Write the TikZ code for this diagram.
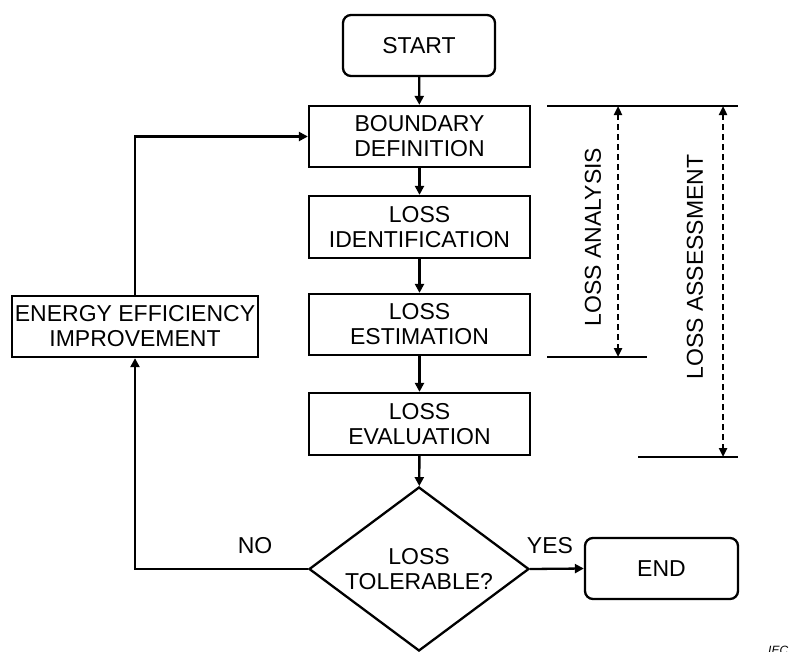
\documentclass[tikz,border=0pt]{standalone}
\usepackage{fontspec}
\setmainfont{Liberation Sans}
\usetikzlibrary{arrows.meta,shapes.geometric}
\tikzset{
  every node/.style={font=\fontsize{23}{25}\selectfont},
  ln/.style={line width=2.3pt},
  arr/.style={line width=2.3pt,-{Triangle[length=9pt,width=9pt]}},
  darr/.style={line width=2.3pt,dash pattern=on 6pt off 4pt,{Triangle[length=9pt,width=8pt]}-{Triangle[length=9pt,width=8pt]}},
  procbox/.style={draw,line width=2.3pt,rectangle,inner sep=0pt,align=center,minimum width=221pt,minimum height=61pt},
  termbox/.style={draw,line width=2.3pt,rectangle,rounded corners=8pt,inner sep=0pt,align=center,minimum width=152pt,minimum height=61pt},
  decbox/.style={draw,line width=2.3pt,diamond,aspect=1.34,inner sep=0pt,align=center,minimum width=220pt,minimum height=164pt},
  lbl/.style={inner sep=0pt}
}
\begin{document}
\begin{tikzpicture}[x=1pt,y=-1pt]
\useasboundingbox (0,0) rectangle (798,651);
\node[termbox] (start) at (419,45.5) {START};
\node[procbox] (bd) at (419.5,136.5) {BOUNDARY\\DEFINITION};
\node[procbox,minimum height=62pt] (li) at (419.5,227) {LOSS\\IDENTIFICATION};
\node[procbox] (le) at (419.5,324.5) {LOSS\\ESTIMATION};
\node[procbox,minimum height=62pt] (lev) at (419.5,424) {LOSS\\EVALUATION};
\node[decbox] (dia) at (419,569) {LOSS\\TOLERABLE?};
\node[termbox,minimum width=153pt] (end) at (661.5,568.5) {END};
\node[procbox,minimum width=246pt] (eei) at (135,326.5) {ENERGY EFFICIENCY\\IMPROVEMENT};

\draw[arr] (start) -- (bd);
\draw[arr] (bd) -- (li);
\draw[arr] (li) -- (le);
\draw[arr] (le) -- (lev);
\draw[arr] (lev) -- (dia);
\draw[arr] (dia.east) -- (end.west);
\draw[arr] (dia.west) -| (eei.south);
\draw[arr] (eei.north) |- (bd.west);

\node[lbl] (yes) at (550,546) {YES};
\node[lbl] (no) at (255,546) {NO};

\coordinate (t1) at (547,106);
\coordinate (t2) at (738,106);
\coordinate (m1) at (547,357);
\coordinate (m2) at (647,357);
\coordinate (b1) at (638,457);
\coordinate (b2) at (738,457);
\coordinate (a1) at (618,106);
\coordinate (a2) at (618,357);
\coordinate (s1) at (723,106);
\coordinate (s2) at (723,457);
\draw[ln] (t1) -- (t2);
\draw[ln] (m1) -- (m2);
\draw[ln] (b1) -- (b2);
\draw[darr] (a1) -- (a2);
\draw[darr] (s1) -- (s2);
\node[lbl,rotate=90] (la) at (593,237) {LOSS ANALYSIS};
\node[lbl,rotate=90] (ls) at (695,267) {LOSS ASSESSMENT};
\node[lbl,anchor=base west,font=\fontsize{12}{14}\selectfont\itshape] (iec) at (768,654) {IEC};
\end{tikzpicture}
\end{document}
